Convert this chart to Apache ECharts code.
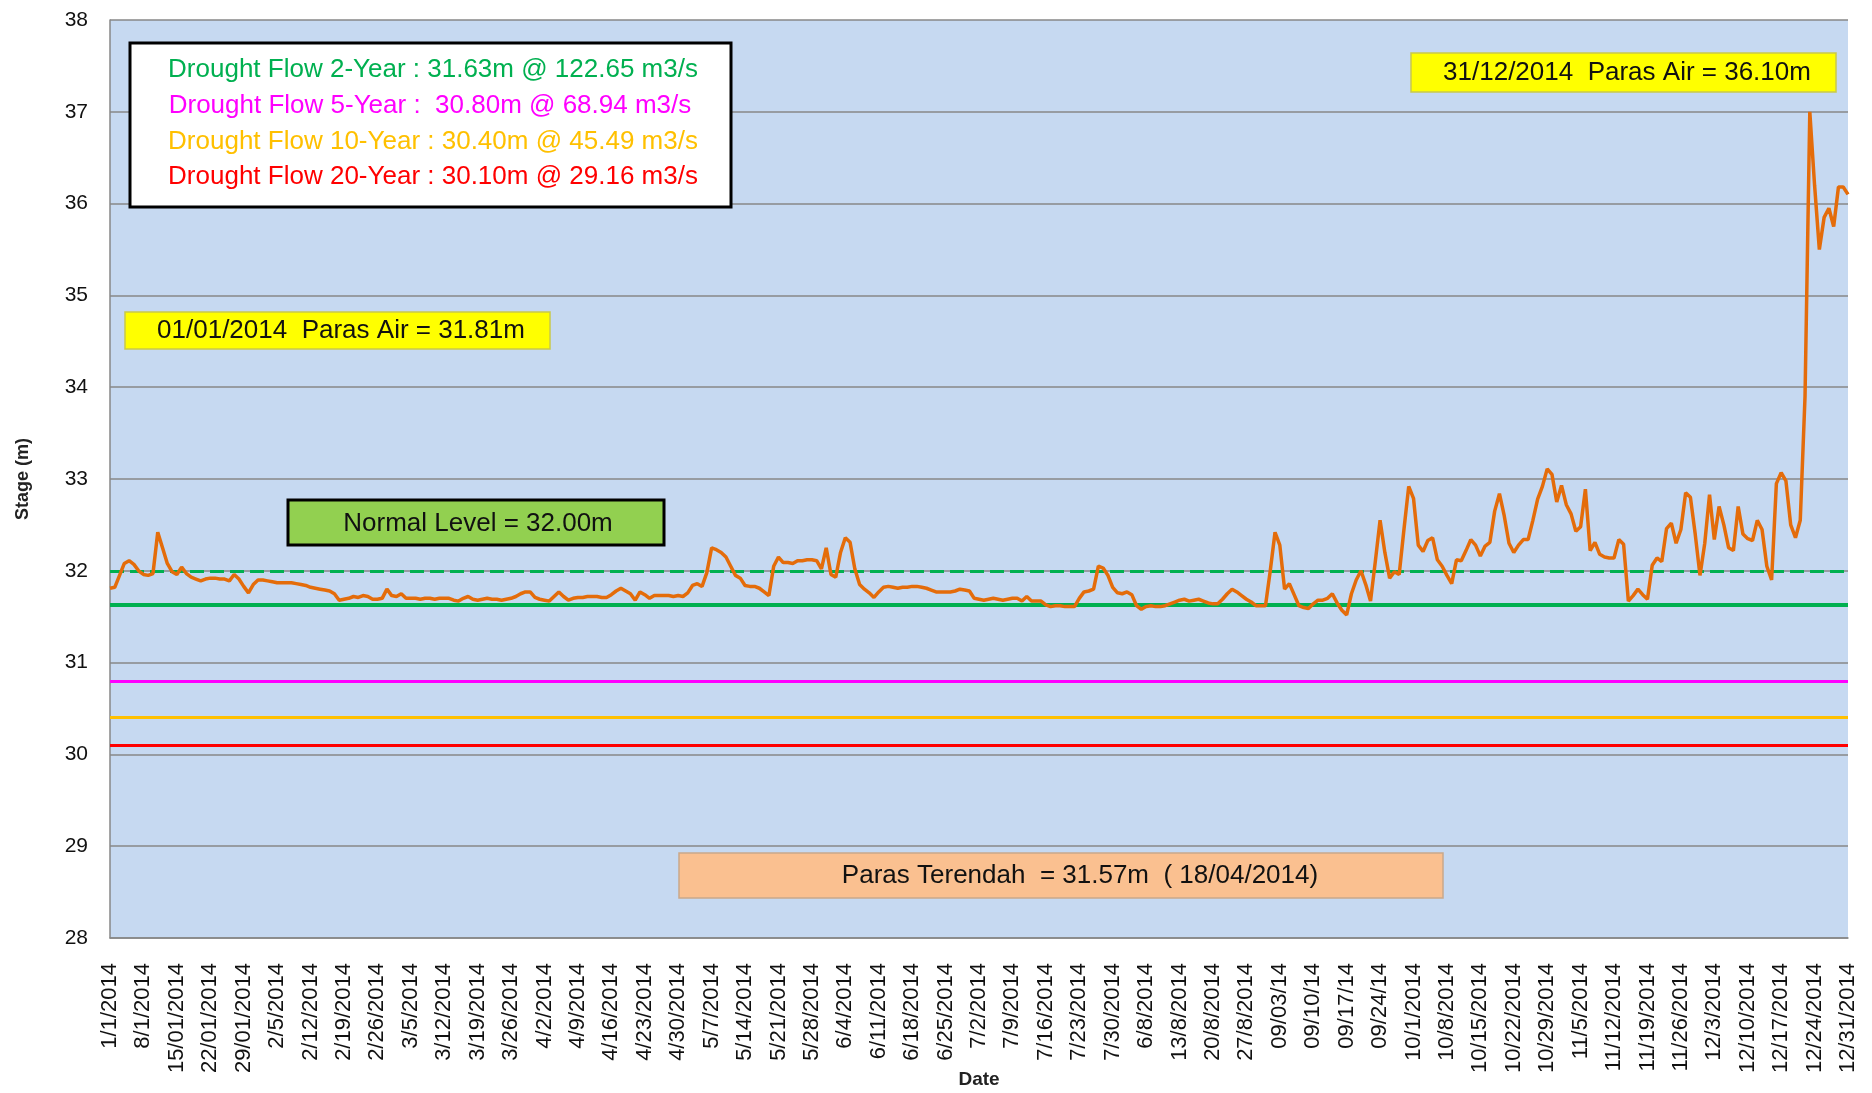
<!DOCTYPE html>
<html lang="en">
<head>
  <meta charset="UTF-8">
  <title>Stage 2014</title>
  <style>
    html, body { margin: 0; padding: 0; background: #fff; }
  </style>
</head>
<body>
  <script src="https://cdn.jsdelivr.net/npm/echarts@6/dist/echarts.min.js"></script>
  <div id="main" style="width: 1872px;height:1093px;"></div>
  <script type="text/javascript">
    // tick labels shown every 7 days (as in the original sheet, mixed formats)
    var tickLabels = ['1/1/2014','8/1/2014','15/01/2014','22/01/2014','29/01/2014','2/5/2014','2/12/2014',
      '2/19/2014','2/26/2014','3/5/2014','3/12/2014','3/19/2014','3/26/2014','4/2/2014','4/9/2014',
      '4/16/2014','4/23/2014','4/30/2014','5/7/2014','5/14/2014','5/21/2014','5/28/2014','6/4/2014',
      '6/11/2014','6/18/2014','6/25/2014','7/2/2014','7/9/2014','7/16/2014','7/23/2014','7/30/2014',
      '6/8/2014','13/8/2014','20/8/2014','27/8/2014','09/03/14','09/10/14','09/17/14','09/24/14',
      '10/1/2014','10/8/2014','10/15/2014','10/22/2014','10/29/2014','11/5/2014','11/12/2014',
      '11/19/2014','11/26/2014','12/3/2014','12/10/2014','12/17/2014','12/24/2014','12/31/2014'];

    // daily stage (m), 1 Jan - 31 Dec 2014, one week per row
    var stage = [
      31.81, 31.82, 31.95, 32.08, 32.11, 32.07, 32.00,
      31.96, 31.95, 31.97, 32.42, 32.25, 32.08, 31.99,
      31.96, 32.04, 31.97, 31.93, 31.91, 31.89, 31.91,
      31.92, 31.92, 31.91, 31.91, 31.89, 31.96, 31.91,
      31.83, 31.76, 31.85, 31.90, 31.90, 31.89, 31.88,
      31.87, 31.87, 31.87, 31.87, 31.86, 31.85, 31.84,
      31.82, 31.81, 31.80, 31.79, 31.78, 31.75, 31.68,
      31.69, 31.70, 31.72, 31.71, 31.73, 31.72, 31.69,
      31.69, 31.70, 31.80, 31.73, 31.72, 31.75, 31.70,
      31.70, 31.70, 31.69, 31.70, 31.70, 31.69, 31.70,
      31.70, 31.70, 31.68, 31.67, 31.70, 31.72, 31.69,
      31.68, 31.69, 31.70, 31.69, 31.69, 31.68, 31.69,
      31.70, 31.72, 31.75, 31.77, 31.77, 31.71, 31.69,
      31.68, 31.67, 31.72, 31.77, 31.72, 31.68, 31.70,
      31.71, 31.71, 31.72, 31.72, 31.72, 31.71, 31.71,
      31.74, 31.78, 31.81, 31.78, 31.75, 31.68, 31.77,
      31.74, 31.70, 31.73, 31.73, 31.73, 31.73, 31.72,
      31.73, 31.72, 31.76, 31.84, 31.86, 31.83, 31.98,
      32.25, 32.23, 32.20, 32.15, 32.05, 31.95, 31.92,
      31.84, 31.83, 31.83, 31.81, 31.77, 31.73, 32.05,
      32.15, 32.09, 32.09, 32.08, 32.11, 32.11, 32.12,
      32.12, 32.11, 32.02, 32.25, 31.96, 31.93, 32.20,
      32.36, 32.31, 32.02, 31.85, 31.80, 31.76, 31.71,
      31.77, 31.82, 31.83, 31.82, 31.81, 31.82, 31.82,
      31.83, 31.83, 31.82, 31.81, 31.79, 31.77, 31.77,
      31.77, 31.77, 31.78, 31.80, 31.79, 31.78, 31.70,
      31.69, 31.68, 31.69, 31.70, 31.69, 31.68, 31.69,
      31.70, 31.70, 31.67, 31.72, 31.67, 31.67, 31.67,
      31.63, 31.61, 31.62, 31.62, 31.61, 31.61, 31.61,
      31.70, 31.77, 31.78, 31.80, 32.05, 32.03, 31.95,
      31.82, 31.76, 31.75, 31.77, 31.74, 31.62, 31.58,
      31.61, 31.62, 31.61, 31.61, 31.62, 31.64, 31.66,
      31.68, 31.69, 31.67, 31.68, 31.69, 31.67, 31.65,
      31.64, 31.64, 31.69, 31.75, 31.80, 31.77, 31.73,
      31.69, 31.66, 31.62, 31.62, 31.62, 32.00, 32.42,
      32.28, 31.80, 31.86, 31.74, 31.62, 31.60, 31.59,
      31.64, 31.68, 31.68, 31.70, 31.75, 31.65, 31.57,
      31.52, 31.75, 31.90, 32.00, 31.85, 31.67, 32.10,
      32.55, 32.20, 31.92, 31.99, 31.96, 32.45, 32.92,
      32.79, 32.28, 32.21, 32.33, 32.36, 32.12, 32.05,
      31.95, 31.86, 32.12, 32.11, 32.22, 32.34, 32.28,
      32.16, 32.27, 32.31, 32.65, 32.84, 32.60, 32.30,
      32.20, 32.28, 32.34, 32.34, 32.55, 32.78, 32.92,
      33.11, 33.05, 32.75, 32.93, 32.72, 32.62, 32.43,
      32.48, 32.89, 32.22, 32.31, 32.18, 32.15, 32.14,
      32.14, 32.34, 32.29, 31.67, 31.73, 31.80, 31.74,
      31.69, 32.06, 32.14, 32.10, 32.46, 32.52, 32.30,
      32.45, 32.85, 32.80, 32.40, 31.95, 32.30, 32.83,
      32.34, 32.70, 32.50, 32.25, 32.22, 32.70, 32.40,
      32.35, 32.33, 32.55, 32.45, 32.05, 31.90, 32.95,
      33.07, 32.98, 32.50, 32.36, 32.55, 33.90, 37.00,
      36.20, 35.50, 35.85, 35.95, 35.75, 36.18, 36.18,
      36.10
    ];

    // reference levels (m)
    var levelNames = ['Normal Level', 'Drought Flow 2-Year', 'Drought Flow 5-Year', 'Drought Flow 10-Year', 'Drought Flow 20-Year'];
    var levelValues = [32.00, 31.63, 30.80, 30.40, 30.10];
    var levelColors = ['#00B050', '#00B050', '#FF00FF', '#FFC000', '#FF0000'];

    var days = stage.map(function (v, i) { return 'd' + i; });

    var myChart = echarts.init(document.getElementById('main'));
    var FONT = '"Liberation Sans", Arial, sans-serif';

    var marks = levelValues.map(function (v, i) {
      return {
        name: levelNames[i],
        yAxis: v,
        lineStyle: {
          color: levelColors[i],
          width: i === 1 ? 4 : 3,
          type: i === 0 ? [14, 6] : 'solid'
        }
      };
    });

    function boxText(text, x, y, color) {
      return {
        type: 'text', z: 101, x: x, y: y,
        style: { text: text, fill: color, fontSize: 26, fontFamily: FONT, align: 'center', verticalAlign: 'middle' }
      };
    }

    var option = {
      animation: false,
      backgroundColor: '#ffffff',
      grid: {
        left: 110, right: 24, top: 20, bottom: 155,
        show: true, backgroundColor: '#C6D9F1', borderWidth: 0,
        outerBoundsMode: 'none'
      },
      xAxis: {
        type: 'category',
        data: days,
        boundaryGap: false,
        name: 'Date',
        nameLocation: 'middle',
        nameGap: 132,
        nameMoveOverlap: false,
        nameTextStyle: { fontFamily: FONT, fontSize: 19, fontWeight: 'bold', color: '#222' },
        axisLine: { lineStyle: { color: '#878787', width: 1.5 } },
        axisTick: { show: false },
        splitLine: { show: false },
        axisLabel: {
          interval: 6,
          rotate: 90,
          margin: 25,
          fontFamily: FONT,
          fontSize: 22,
          color: '#111',
          formatter: function (value, index) {
            return index % 7 === 0 ? tickLabels[index / 7] : '';
          }
        }
      },
      yAxis: {
        type: 'value',
        min: 28, max: 38, interval: 1,
        name: 'Stage (m)',
        nameLocation: 'middle',
        nameGap: 78,
        nameTextStyle: { fontFamily: FONT, fontSize: 18, fontWeight: 'bold', color: '#222' },
        axisLine: { show: true, lineStyle: { color: '#878787', width: 1.5 } },
        axisTick: { show: false },
        axisLabel: { margin: 22, fontFamily: FONT, fontSize: 21, color: '#111' },
        splitLine: { show: true, lineStyle: { color: '#878787', width: 1.5 } }
      },
      series: [{
        name: 'Stage',
        type: 'line',
        data: stage,
        showSymbol: false,
        z: 3,
        lineStyle: { color: '#E46C0A', width: 3.5 },
        markLine: {
          silent: true,
          symbol: 'none',
          z: 2,
          label: { show: false },
          data: marks
        }
      }],
      graphic: [
        { type: 'rect', z: 100, shape: { x: 130, y: 43, width: 601, height: 164 },
          style: { fill: '#ffffff', stroke: '#000000', lineWidth: 3 } },
        boxText('Drought Flow 2-Year : 31.63m @ 122.65 m3/s', 433, 70, '#00B050'),
        boxText('Drought Flow 5-Year :  30.80m @ 68.94 m3/s', 430, 106, '#FF00FF'),
        boxText('Drought Flow 10-Year : 30.40m @ 45.49 m3/s', 433, 142, '#FFC000'),
        boxText('Drought Flow 20-Year : 30.10m @ 29.16 m3/s', 433, 177, '#FF0000'),

        { type: 'rect', z: 100, shape: { x: 125, y: 312, width: 425, height: 37 },
          style: { fill: '#FFFF00', stroke: '#C9C94A', lineWidth: 1.5 } },
        boxText('01/01/2014  Paras Air = 31.81m', 341, 331, '#111'),

        { type: 'rect', z: 100, shape: { x: 1411, y: 53, width: 425, height: 39 },
          style: { fill: '#FFFF00', stroke: '#C9C94A', lineWidth: 1.5 } },
        boxText('31/12/2014  Paras Air = 36.10m', 1627, 73, '#111'),

        { type: 'rect', z: 100, shape: { x: 288, y: 500, width: 376, height: 45 },
          style: { fill: '#92D050', stroke: '#000000', lineWidth: 3 } },
        boxText('Normal Level = 32.00m', 478, 524, '#111'),

        { type: 'rect', z: 100, shape: { x: 679, y: 853, width: 764, height: 45 },
          style: { fill: '#FAC090', stroke: '#C9A88A', lineWidth: 1.5 } },
        boxText('Paras Terendah  = 31.57m  ( 18/04/2014)', 1080, 876, '#111')
      ]
    };

    myChart.setOption(option);
  </script>
</body>
</html>
